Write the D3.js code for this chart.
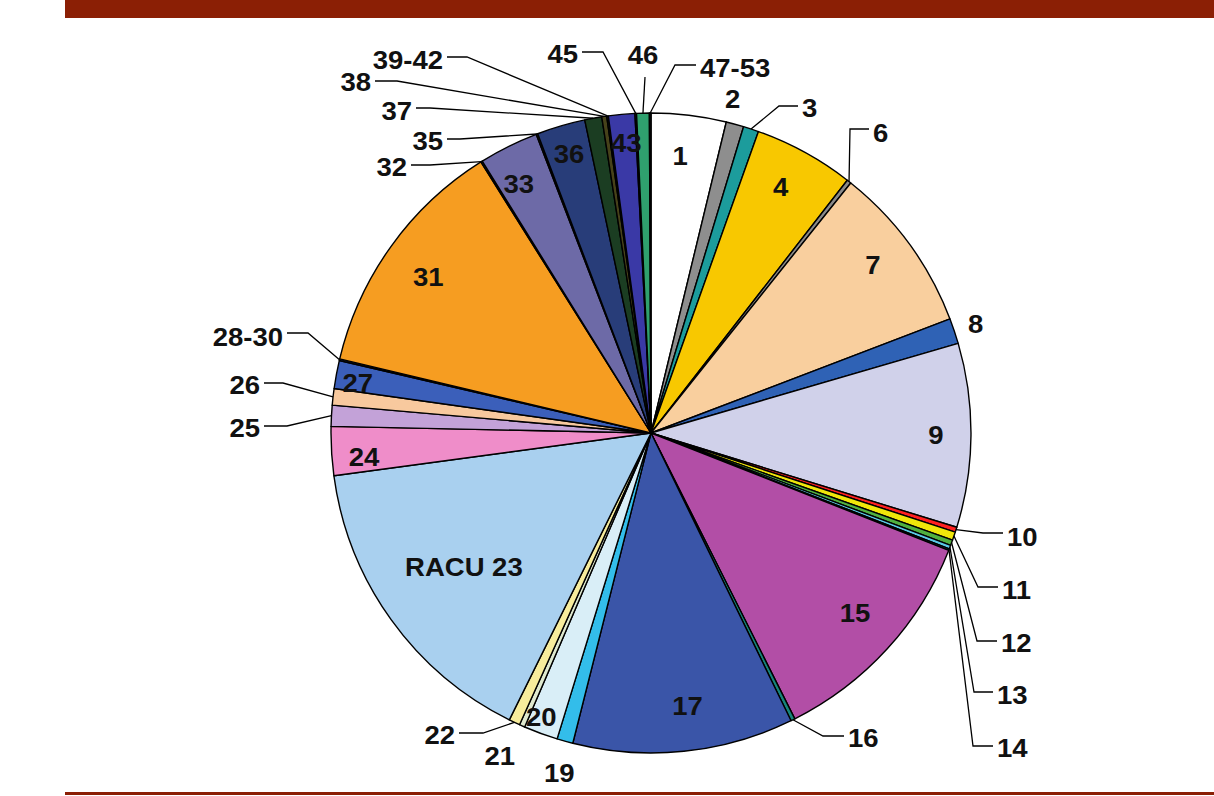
<!DOCTYPE html>
<html>
<head>
<meta charset="utf-8">
<script src="https://cdn.jsdelivr.net/npm/d3@7"></script>
<style>
  body { margin: 0; background: #ffffff; }
  svg { display: block; }
  text { font-family: "Liberation Sans", Arial, sans-serif; font-weight: bold; fill: #111; }
</style>
</head>
<body>
<svg id="chart" width="1214" height="796"></svg>
<script>
// Slice categories, clockwise from 12 o'clock
const categories = ["1","2","3","4","6","7","8","9","10","11","12","13","14","15","16","17",
  "19","20","21","22","RACU 23","24","25","26","27","28-30","31","32","33","35","36","37","38",
  "39-42","43","45","46","47-53"];

// Share of the total, in percent
const shares = [3.78,0.89,0.78,5.06,0.22,8.47,1.28,9.28,0.25,0.42,0.28,0.19,0.08,11.60,0.21,11.14,
  0.81,1.72,0.28,0.56,15.57,2.46,1.06,0.83,1.42,0.08,12.36,0.08,3.00,0.08,2.44,0.86,0.25,
  0.08,1.33,0.08,0.64,0.08];

const sliceColors = ["#ffffff","#8e8e8e","#1c9c9c","#f8c800","#8a8a8a","#f9cf9e","#2f62b5","#d0d1ea",
  "#ff2020","#f0e60a","#50b040","#5cc8e6","#2a6a8a","#b24ea6","#16857a","#3a55a8",
  "#33bdea","#d9eef7","#dfe9cf","#f7ec9c","#a9d0ef","#ef8dc9","#c3a2d8","#f8c99e","#3b5fba","#203060",
  "#f69d21","#555555","#6d6aa7","#333333","#283d79","#1b3d22","#47421a",
  "#222222","#3a39a6","#222222","#2fa06e","#222222"];

// Label placement: "in"/"out" sit on the slice bisector at a fraction of the radius,
// "lead" labels sit at a fixed spot and get an elbow leader to the slice rim.
const labelLayout = {
  "1": {mode:"in", k:0.87, da:-0.8}, "4": {mode:"in", k:0.87, da:-1}, "7": {mode:"in", k:0.87, da:-1},
  "9": {mode:"in", k:0.89}, "15": {mode:"in", k:0.85, da:-1}, "17": {mode:"in", k:0.86, da:-1.7},
  "20": {mode:"in", k:0.95, da:1}, "RACU 23": {mode:"in", k:0.72}, "24": {mode:"in", k:0.9, da:-1.5},
  "27": {mode:"in", k:0.93, da:-0.8}, "31": {mode:"in", k:0.85, da:-0.6}, "33": {mode:"in", k:0.88, da:-1.6},
  "36": {mode:"in", k:0.91}, "43": {mode:"in", k:0.91, da:0.4},
  "2": {mode:"out", k:1.075, da:-1.5}, "8": {mode:"out", k:1.07}, "19": {mode:"out", k:1.1, da:-0.5},
  "21": {mode:"out", k:1.115, da:1.3},
  "39-42": {mode:"lead", x:443, y:60, ly:57, ex:467, anchor:"end"},
  "38":    {mode:"lead", x:371, y:82, ly:81, ex:397, anchor:"end"},
  "37":    {mode:"lead", x:412, y:111, ly:108, ex:430, anchor:"end"},
  "35":    {mode:"lead", x:443, y:141, ly:139, ex:460, anchor:"end"},
  "32":    {mode:"lead", x:407, y:167, ly:165, ex:430, anchor:"end"},
  "45":    {mode:"lead", x:578, y:54, ly:52, ex:603, anchor:"end"},
  "46":    {mode:"lead", x:643, y:55, ly:77, ex:645, anchor:"middle"},
  "47-53": {mode:"lead", x:700, y:68, ly:65, ex:675, anchor:"start"},
  "3":     {mode:"lead", x:802, y:108, ly:106, ex:779, anchor:"start"},
  "6":     {mode:"lead", x:873, y:133, ly:129, ex:850, anchor:"start"},
  "10":    {mode:"lead", x:1007, y:537, ly:533, ex:983, anchor:"start"},
  "11":    {mode:"lead", x:1002, y:590, ly:587, ex:978, anchor:"start"},
  "12":    {mode:"lead", x:1001, y:643, ly:641, ex:977, anchor:"start"},
  "13":    {mode:"lead", x:997, y:695, ly:692, ex:974, anchor:"start"},
  "14":    {mode:"lead", x:997, y:748, ly:746, ex:973, anchor:"start"},
  "16":    {mode:"lead", x:848, y:738, ly:736, ex:823, anchor:"start"},
  "22":    {mode:"lead", x:455, y:735, ly:733, ex:483, anchor:"end"},
  "28-30": {mode:"lead", x:283, y:337, ly:333, ex:308, anchor:"end"},
  "26":    {mode:"lead", x:260, y:385, ly:383, ex:283, anchor:"end"},
  "25":    {mode:"lead", x:260, y:428, ly:426, ex:287, anchor:"end"}
};

const W = 1214, H = 796;
const cx = 651, cy = 433, R = 320;
const FONT = 25, STRETCH = 1.1;
const BAND = "#8b1f05";

const svg = d3.select("#chart");

// Header band and footer rule
svg.append("rect").attr("x", 65).attr("y", 0).attr("width", W - 65).attr("height", 18).attr("fill", BAND);
svg.append("rect").attr("x", 65).attr("y", 792).attr("width", W - 65).attr("height", 3).attr("fill", BAND);

const data = categories.map((c, i) => ({name: c, value: shares[i], color: sliceColors[i]}));

const pie = d3.pie().sort(null).value(d => d.value).startAngle(0).endAngle(2 * Math.PI);
const arcs = pie(data);
const arc = d3.arc().innerRadius(0).outerRadius(R);

const g = svg.append("g").attr("transform", `translate(${cx},${cy})`);

g.selectAll("path.slice")
  .data(arcs)
  .join("path")
  .attr("class", "slice")
  .attr("d", arc)
  .attr("fill", d => d.data.color)
  .attr("stroke", "#000")
  .attr("stroke-width", 1.4)
  .attr("stroke-linejoin", "round");

const toRad = deg => deg * Math.PI / 180;
function polar(angle, r) {
  return [cx + r * Math.sin(angle), cy - r * Math.cos(angle)];
}

function drawLabel(x, y, text, anchor) {
  svg.append("text")
    .attr("transform", `translate(${x},${y}) scale(${STRETCH},1)`)
    .attr("text-anchor", anchor)
    .attr("dy", "0.36em")
    .attr("font-size", FONT)
    .text(text);
}

const leaders = svg.append("g").attr("fill", "none").attr("stroke", "#000").attr("stroke-width", 1.3);

arcs.forEach(a => {
  const lay = labelLayout[a.data.name];
  if (!lay) return;
  const mid = (a.startAngle + a.endAngle) / 2 + toRad(lay.da || 0);
  if (lay.mode === "in" || lay.mode === "out") {
    const [x, y] = polar(mid, R * lay.k);
    drawLabel(x, y, a.data.name, "middle");
  } else {
    const rim = polar((a.startAngle + a.endAngle) / 2, R);
    let pts;
    if (lay.anchor === "middle") {
      pts = [[lay.ex, lay.ly], rim];
    } else {
      const gap = lay.anchor === "end" ? 4 : -4;
      pts = [[lay.x + gap, lay.ly], [lay.ex, lay.ly], rim];
    }
    leaders.append("path").attr("d", d3.line()(pts));
    drawLabel(lay.x, lay.y, a.data.name, lay.anchor);
  }
});
</script>
</body>
</html>
